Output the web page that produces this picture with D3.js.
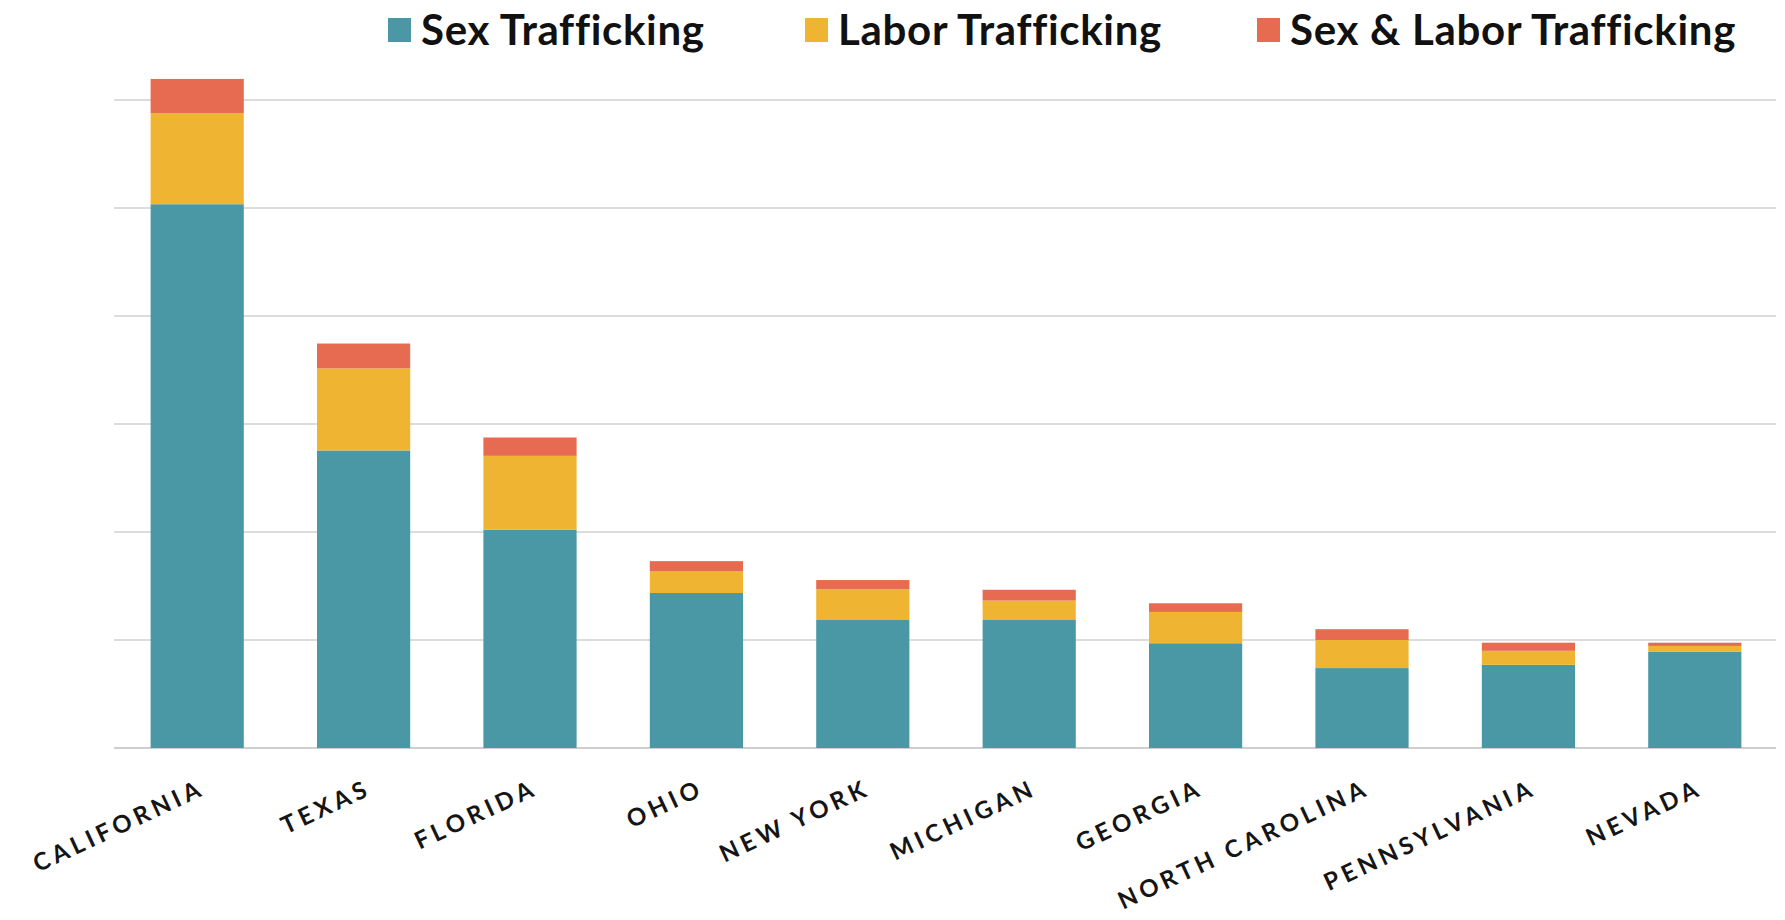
<!DOCTYPE html>
<html>
<head>
<meta charset="utf-8">
<script src="https://cdn.jsdelivr.net/npm/d3@7"></script>
<style>
  body { margin: 0; background: #fff; }
  .tick text { font-family: Lato, sans-serif; }
</style>
</head>
<body>
<div id="chart"></div>
<script>
// data (cases, axis step 200)
var states = ["CALIFORNIA", "TEXAS", "FLORIDA", "OHIO", "NEW YORK", "MICHIGAN",
              "GEORGIA", "NORTH CAROLINA", "PENNSYLVANIA", "NEVADA"];
var sexTrafficking   = [1007, 551, 404, 287, 237, 237, 194, 148, 154, 178];
var laborTrafficking = [169, 152, 137, 40, 57, 36, 58, 52, 26, 11];
var sexAndLabor      = [63, 46, 34, 19, 17, 20, 16, 20, 15, 6];
var seriesNames = ["Sex Trafficking", "Labor Trafficking", "Sex & Labor Trafficking"];
var gridTicks = [0, 200, 400, 600, 800, 1000, 1200];

var colors = ["#4a97a6", "#efb532", "#e66b50"];

var width = 1785, height = 920;
var margin = {left: 114, right: 7, top: 100, baseline: 748};

var svg = d3.select("#chart")
  .append("svg")
    .attr("width", width)
    .attr("height", height);

// build rows for the stack
var rows = states.map(function(s, i) {
  return {state: s, s0: sexTrafficking[i], s1: laborTrafficking[i], s2: sexAndLabor[i]};
});
var keys = ["s0", "s1", "s2"];
var stacked = d3.stack().keys(keys)(rows);

var x = d3.scaleBand()
    .domain(states)
    .range([margin.left, width - margin.right])
    .paddingInner(0.44)
    .paddingOuter(0.22);

var y = d3.scaleLinear()
    .domain([0, 1200])
    .range([margin.baseline, margin.top]);

// gridlines
svg.append("g")
  .selectAll("line")
  .data(gridTicks)
  .enter().append("line")
    .attr("x1", margin.left)
    .attr("x2", width - 9)
    .attr("y1", function(d) { return y(d); })
    .attr("y2", function(d) { return y(d); })
    .attr("stroke", function(d) { return d === 0 ? "#cfcfcf" : "#dcdcdc"; })
    .attr("stroke-width", 2);

// bars
svg.append("g")
  .selectAll("g")
  .data(stacked)
  .enter().append("g")
    .attr("fill", function(d, i) { return colors[i]; })
  .selectAll("rect")
  .data(function(d) { return d; })
  .enter().append("rect")
    .attr("x", function(d) { return x(d.data.state); })
    .attr("width", x.bandwidth())
    .attr("y", function(d) { return y(d[1]); })
    .attr("height", function(d) { return y(d[0]) - y(d[1]); });

// category labels
var xAxis = svg.append("g")
    .attr("transform", "translate(0," + margin.baseline + ")")
    .call(d3.axisBottom(x).tickSize(0));
xAxis.select(".domain").remove();
xAxis.selectAll("text")
    .attr("x", 0)
    .attr("y", 0)
    .attr("dy", 0)
    .attr("text-anchor", "end")
    .attr("transform", "translate(9,46) rotate(-25)")
    .style("font-size", "24px")
    .style("font-weight", "700")
    .style("letter-spacing", "4.3px")
    .style("fill", "#151515");

// legend
var legendX = [388, 805, 1257];
var legend = svg.append("g")
  .selectAll("g")
  .data(seriesNames)
  .enter().append("g")
    .attr("transform", function(d, i) { return "translate(" + legendX[i] + ",0)"; });

legend.append("rect")
    .attr("y", 18)
    .attr("width", 23)
    .attr("height", 24)
    .attr("fill", function(d, i) { return colors[i]; });

legend.append("text")
    .attr("x", 33)
    .attr("y", 45)
    .style("font-family", "Lato, sans-serif")
    .style("font-weight", "700")
    .style("font-size", "42px")
    .style("letter-spacing", "0.7px")
    .style("fill", "#111")
    .text(function(d) { return d; });
</script>
</body>
</html>
